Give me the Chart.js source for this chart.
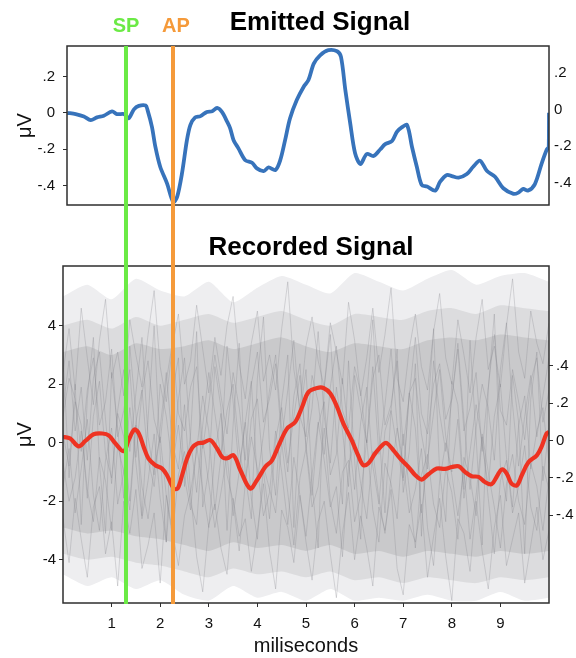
<!DOCTYPE html>
<html>
<head>
<meta charset="utf-8">
<script src="https://cdn.jsdelivr.net/npm/chart.js@4/dist/chart.umd.min.js"></script>
<style>
  html, body { margin: 0; padding: 0; background: #fff; }
  #wrap { position: relative; width: 576px; height: 658px; }
  #top { position: absolute; left: 0; top: 0; }
  #bot { position: absolute; left: 0; top: 230px; }
</style>
</head>
<body>
<div id="wrap">
  <canvas id="top" width="576" height="230"></canvas>
  <canvas id="bot" width="576" height="428"></canvas>
</div>
<script>
// ---------- DATA ----------
const xTickValues = [1, 2, 3, 4, 5, 6, 7, 8, 9];
const topLeftTicks = [-0.4, -0.2, 0, 0.2];
const topRightTicks = [-0.4, -0.2, 0, 0.2];
const botLeftTicks = [-4, -2, 0, 2, 4];
const botRightTicks = [-0.4, -0.2, 0, 0.2, 0.4];

const markerLabels = ['SP', 'AP'];
const markerTimes = [1.30, 2.27];

// Emitted signal (blue)
const blueX = [0.09,0.26,0.43,0.57,0.70,0.84,1.01,1.11,1.26,1.35,1.46,1.56,1.70,1.74,1.83,1.90,2.00,2.14,2.27,2.35,2.45,2.55,2.62,2.72,2.83,2.96,3.07,3.17,3.27,3.38,3.44,3.51,3.61,3.75,3.89,3.99,4.13,4.23,4.37,4.47,4.57,4.67,4.81,4.95,5.05,5.16,5.29,5.46,5.64,5.72,5.81,5.91,6.01,6.12,6.25,6.39,6.53,6.63,6.77,6.87,6.97,7.08,7.18,7.28,7.38,7.49,7.66,7.76,7.90,8.00,8.14,8.31,8.44,8.58,8.72,8.89,9.06,9.27,9.37,9.47,9.57,9.71,9.85,9.95,9.995,10.0];
const blueY = [0.00,-0.007,-0.02,-0.04,-0.025,-0.016,0.008,-0.007,-0.007,-0.03,0.019,0.038,0.04,0.015,-0.077,-0.186,-0.296,-0.387,-0.49,-0.46,-0.33,-0.15,-0.067,-0.025,-0.018,0.005,0.009,0.027,0.005,-0.05,-0.085,-0.15,-0.195,-0.26,-0.274,-0.305,-0.32,-0.30,-0.314,-0.26,-0.15,-0.031,0.07,0.142,0.18,0.27,0.316,0.344,0.338,0.307,0.124,-0.058,-0.222,-0.281,-0.226,-0.237,-0.2,-0.172,-0.155,-0.104,-0.08,-0.067,-0.186,-0.296,-0.396,-0.405,-0.427,-0.378,-0.341,-0.347,-0.356,-0.336,-0.296,-0.263,-0.318,-0.351,-0.414,-0.445,-0.438,-0.418,-0.427,-0.391,-0.277,-0.204,-0.186,0.0];

// Recorded average (red, right axis)
const redX = [0,0.03,0.15,0.32,0.46,0.63,0.81,0.94,1.08,1.25,1.35,1.47,1.56,1.66,1.76,1.90,2.04,2.14,2.28,2.36,2.45,2.55,2.66,2.76,2.89,3.03,3.17,3.28,3.38,3.51,3.65,3.85,3.99,4.16,4.30,4.44,4.61,4.78,4.92,5.05,5.23,5.36,5.50,5.64,5.77,5.94,6.08,6.18,6.29,6.42,6.59,6.66,6.80,6.94,7.11,7.25,7.38,7.52,7.69,7.86,8.00,8.14,8.27,8.41,8.55,8.68,8.82,8.93,9.03,9.13,9.23,9.34,9.44,9.58,9.75,9.85,9.95,10.0];
const redY = [0.015,0.019,0.011,-0.031,-0.002,0.034,0.038,0.028,-0.016,-0.057,0.002,0.059,0.038,-0.034,-0.097,-0.132,-0.15,-0.186,-0.257,-0.257,-0.186,-0.097,-0.038,-0.016,-0.011,0.002,-0.043,-0.09,-0.095,-0.079,-0.159,-0.257,-0.213,-0.142,-0.106,-0.025,0.064,0.1,0.18,0.26,0.282,0.282,0.252,0.18,0.091,0.002,-0.084,-0.132,-0.12,-0.07,-0.02,-0.013,-0.052,-0.097,-0.142,-0.186,-0.209,-0.181,-0.15,-0.152,-0.142,-0.138,-0.168,-0.191,-0.195,-0.222,-0.234,-0.191,-0.155,-0.177,-0.231,-0.24,-0.186,-0.115,-0.079,-0.031,0.038,0.046];

// Spread of the individual recordings (gray envelope), read at 0.5 ms steps
const bandTimes = [0,0.5,1,1.5,2,2.5,3,3.5,4,4.5,5,5.5,6,6.5,7,7.5,8,8.5,9,9.5,10];
const outerUpper = [5.0,5.4,4.9,5.6,5.2,5.0,5.5,4.8,5.3,5.7,5.4,5.1,5.8,5.5,5.2,5.6,5.9,5.4,5.7,5.8,5.5];
const outerLower = [-4.5,-4.9,-4.6,-5.0,-4.7,-5.2,-5.4,-4.9,-5.3,-5.1,-5.4,-5.0,-5.4,-5.3,-5.4,-5.2,-5.4,-5.4,-5.1,-5.4,-5.3];
const midUpper = [4.0,4.2,3.9,4.3,4.0,4.2,4.4,4.1,4.3,4.5,4.2,4.0,4.4,4.3,4.2,4.5,4.6,4.4,4.7,4.6,4.5];
const midLower = [-3.8,-4.0,-3.9,-4.1,-4.2,-4.4,-4.6,-4.3,-4.5,-4.4,-4.6,-4.4,-4.7,-4.6,-4.8,-4.6,-4.7,-4.8,-4.6,-4.7,-4.6];
const innerUpper = [3.1,3.3,3.0,3.4,3.2,3.3,3.5,3.2,3.4,3.6,3.3,3.1,3.4,3.3,3.2,3.5,3.6,3.5,3.7,3.6,3.5];
const innerLower = [-2.9,-3.1,-3.0,-3.2,-3.3,-3.5,-3.7,-3.4,-3.6,-3.5,-3.7,-3.5,-3.8,-3.7,-3.9,-3.7,-3.8,-3.9,-3.7,-3.8,-3.7];

// A few individual recordings (gray traces), evenly sampled over 0-10 ms
const trace1 = [1.2,2.8,0.4,1.9,-0.6,2.2,3.1,0.8,-1.4,1.1,2.5,-0.3,1.7,3.6,0.2,-1.1,2.0,0.9,-0.8,1.5,2.9,0.1,-1.7,0.6,2.4,1.0,-0.5,3.3,1.4,-0.9,0.7,2.1,-1.3,0.3,1.8,3.0,0.5,-1.0,1.6,2.7,-0.2,1.2,3.8,0.9,-0.7,1.9,0.4,-1.5,2.3,1.1,0.0,2.6,-0.4,1.3,3.2,0.6,-1.2,1.7,2.2,0.3,-0.9,2.8,1.0,-0.3,1.5,3.4,0.8,-1.6,0.5,2.0,1.2,-0.6,2.5,4.1,1.3,-0.8,0.9,2.3,0.2,1.6,2.9];
const trace2 = [-1.5,-0.2,-2.4,-0.9,0.8,-1.8,-3.0,-0.6,0.5,-2.1,-1.0,1.2,-0.7,-2.6,-1.3,0.3,-1.9,-3.4,-0.8,0.6,-1.2,-2.3,-0.1,-1.6,-2.9,-0.4,1.0,-1.1,-2.0,-3.7,-1.4,0.2,-0.9,-2.5,-1.7,0.4,-1.0,-2.8,-0.5,-1.8,-3.2,-1.1,0.7,-0.6,-2.2,-1.5,-3.9,-0.8,0.1,-1.4,-2.6,-0.3,-1.9,-3.1,-1.2,0.5,-0.7,-2.4,-1.6,-0.2,-2.9,-4.2,-1.3,0.0,-1.1,-2.5,-0.9,-3.3,-1.8,0.3,-1.0,-2.2,-3.6,-1.4,-0.4,-2.0,-2.8,-0.7,-1.5,-3.0,-1.2];
const trace3 = [0.3,-0.8,1.4,0.6,-1.9,0.9,2.1,-0.4,-1.2,1.0,0.2,-2.0,0.7,1.8,-0.6,-1.5,0.5,2.4,0.0,-0.9,1.3,-1.7,-0.3,1.6,0.4,-2.3,-0.5,1.1,2.0,-0.2,-1.4,0.8,1.5,-1.0,-2.6,0.1,1.2,-0.7,0.9,2.3,-0.1,-1.8,0.6,1.4,-1.1,-0.4,2.2,0.3,-1.6,0.7,1.9,-0.8,-2.1,0.4,1.1,-0.2,-1.3,1.7,0.5,-2.4,-0.6,1.0,2.5,0.2,-1.0,0.8,-1.9,-0.3,1.3,0.0,-1.5,0.9,2.0,-0.5,-2.2,0.6,1.6,-0.9,0.4,1.2,-0.7];
const trace4 = [2.4,3.9,1.8,4.6,2.9,1.3,3.5,4.9,2.2,3.1,1.6,4.2,3.0,1.9,3.7,5.2,2.6,1.4,3.3,4.4,2.0,2.8,4.7,3.2,1.7,3.6,2.3,4.0,5.0,2.7,1.5,3.4,4.5,2.1,3.0,1.8,3.9,5.5,2.5,1.2,3.3,4.3,2.8,1.9,4.1,3.1,2.0,4.8,3.5,1.6,2.9,4.6,2.4,3.7,5.3,2.2,1.4,3.2,4.4,2.6,1.8,3.8,5.1,2.9,2.0,4.2,3.0,1.7,3.6,4.9,2.5,3.3,1.9,4.0,5.6,3.1,2.2,4.5,3.4,2.7,4.1];
const trace5 = [-2.6,-4.1,-1.9,-3.3,-4.6,-2.2,-1.5,-3.8,-2.7,-4.9,-2.0,-3.1,-1.6,-4.3,-3.5,-2.4,-4.8,-1.8,-3.0,-4.2,-2.5,-1.7,-3.9,-5.1,-2.8,-2.1,-3.6,-4.5,-1.9,-3.2,-2.6,-4.4,-3.0,-1.4,-3.7,-5.0,-2.3,-2.9,-4.1,-1.8,-3.4,-4.7,-2.7,-2.0,-3.8,-5.3,-3.1,-1.7,-4.0,-2.5,-3.6,-4.9,-2.2,-3.0,-1.6,-4.3,-5.2,-2.8,-3.4,-2.1,-4.6,-3.2,-1.9,-3.9,-5.4,-2.6,-3.1,-4.4,-2.0,-3.7,-5.0,-2.9,-1.8,-4.2,-3.3,-2.4,-4.8,-3.5,-2.2,-4.0,-3.0];
const trace6 = [0.9,2.2,1.5,-0.3,1.8,2.9,0.6,1.4,3.2,0.2,1.1,2.5,-0.5,1.7,2.8,0.8,0.0,2.1,3.4,1.0,0.4,1.9,2.6,-0.2,1.3,3.0,1.6,0.3,2.4,1.2,-0.6,2.0,3.1,0.7,1.5,2.7,0.1,1.8,3.5,0.9,0.2,2.3,1.4,-0.4,1.9,3.3,1.1,0.5,2.6,1.7,0.0,2.2,3.0,0.6,1.3,2.8,-0.1,1.6,3.6,1.0,0.3,2.0,2.7,0.8,1.5,3.2,0.4,1.2,2.4,-0.3,1.9,3.7,1.1,0.6,2.5,1.4,0.1,2.1,2.9,0.7,1.8];
const trace7 = [-0.7,-2.0,-1.2,0.4,-1.6,-2.7,-0.5,-1.3,-3.0,-0.1,-1.0,-2.3,0.6,-1.5,-2.6,-0.9,0.2,-1.8,-3.2,-1.1,-0.3,-2.1,-2.8,0.1,-1.4,-2.9,-1.7,-0.4,-2.5,-1.0,0.7,-1.9,-3.3,-0.8,-1.6,-2.4,0.0,-1.7,-3.5,-1.2,-0.2,-2.2,-1.5,0.5,-2.0,-3.1,-1.0,-0.6,-2.7,-1.8,0.1,-2.3,-3.4,-0.7,-1.4,-2.6,0.3,-1.6,-3.6,-1.1,-0.4,-2.1,-2.9,-0.9,-1.7,-3.3,-0.5,-1.2,-2.5,0.2,-1.9,-3.8,-1.3,-0.6,-2.4,-1.5,-0.1,-2.2,-3.0,-0.8,-1.6];
const trace8 = [3.1,-1.2,2.0,-2.8,1.5,3.6,-0.7,-3.1,2.4,0.5,-1.9,3.3,1.0,-2.5,0.8,4.0,-0.4,-3.4,1.7,2.9,-1.5,0.3,3.8,-2.2,-0.9,2.6,1.2,-3.0,0.6,3.4,-1.1,-2.6,2.2,4.3,-0.2,-1.8,1.4,3.0,-2.9,0.9,2.5,-1.4,-3.6,1.9,3.7,0.1,-2.1,2.8,-0.6,-3.3,1.6,4.2,0.4,-2.4,1.1,3.2,-1.7,-0.3,2.7,-3.2,0.8,3.9,-1.0,-2.7,2.1,1.3,-1.6,3.5,0.2,-3.5,1.8,4.4,-0.8,-2.0,2.3,0.7,-3.8,1.5,3.1,-1.3,0.5];
const grayTraces = [trace1, trace2, trace3, trace4, trace5, trace6, trace7, trace8];

// ---------- STYLES ----------
const FONT = '"Liberation Sans", Arial, Helvetica, sans-serif';
const markerColors = ['#6bea45', '#f59a3a'];
const markerLabelDx = [0, 3];
const INK = '#111';
const FRAME = '#2e2e2e';

const pair = (xs, ys) => xs.map((x, i) => ({ x: x, y: ys[i] }));
const evenly = (ys) => ys.map((y, i) => ({ x: i * 10 / (ys.length - 1), y: y }));
const fmtFrac = (v) => {
  if (Math.abs(v) < 1e-9) return '0';
  return (v < 0 ? '-' : '') + Math.abs(v).toFixed(1).replace(/^0/, '');
};
const fixTicks = (vals) => (scale) => { scale.ticks = vals.map(v => ({ value: v })); };

function overlayPlugin(id) {
  return {
    id: id,
    afterDatasetsDraw(chart, args, opts) {
      const { ctx, chartArea: a } = chart;
      const xs = chart.scales.x;
      ctx.save();
      ctx.strokeStyle = FRAME;
      ctx.lineWidth = 1.5;
      ctx.strokeRect(a.left, a.top, a.right - a.left, a.bottom - a.top);
      markerTimes.forEach((t, i) => {
        const px = Math.round(xs.getPixelForValue(t));
        ctx.strokeStyle = markerColors[i];
        ctx.lineWidth = 4;
        ctx.lineCap = 'butt';
        ctx.beginPath();
        ctx.moveTo(px, opts.fromArea ? a.top : -4);
        ctx.lineTo(px, opts.toArea ? a.bottom + 1 : chart.height + 4);
        ctx.stroke();
        if (opts.labels) {
          ctx.fillStyle = markerColors[i];
          ctx.font = 'bold 20px ' + FONT;
          ctx.textAlign = 'center';
          ctx.textBaseline = 'alphabetic';
          ctx.fillText(markerLabels[i], px + markerLabelDx[i], a.top - 14);
        }
      });
      ctx.fillStyle = '#000';
      ctx.font = 'bold 26px ' + FONT;
      ctx.textAlign = 'center';
      ctx.textBaseline = 'alphabetic';
      ctx.fillText(opts.title, (a.left + a.right) / 2 + opts.titleDx, a.top - opts.titleDy);
      ctx.restore();
    }
  };
}

const tickFont = { family: FONT, size: 15 };
const axisTitleFont = { family: FONT, size: 20 };

// ---------- TOP CHART ----------
new Chart(document.getElementById('top'), {
  type: 'line',
  data: {
    datasets: [{
      data: pair(blueX, blueY),
      borderColor: '#3773bb',
      borderWidth: 3.8,
      pointRadius: 0,
      tension: 0.3,
      yAxisID: 'yL'
    }]
  },
  options: {
    responsive: false,
    devicePixelRatio: 1,
    animation: false,
    layout: { padding: { top: 46, bottom: 25, left: 0, right: 0 } },
    plugins: {
      legend: { display: false },
      tooltip: { enabled: false },
      topOverlay: { fromArea: true, toArea: false, labels: true, title: 'Emitted Signal', titleDx: 12, titleDy: 16 }
    },
    scales: {
      x: { type: 'linear', min: 0.0823, max: 10, display: false },
      yL: {
        type: 'linear', position: 'left', min: -0.506, max: 0.367,
        afterBuildTicks: fixTicks(topLeftTicks),
        afterFit: (s) => { s.width = 67; },
        border: { display: false },
        grid: { drawOnChartArea: false, drawTicks: true, tickLength: 4, color: FRAME },
        ticks: { callback: fmtFrac, font: tickFont, color: INK, padding: 8 },
        title: { display: true, text: 'μV', font: axisTitleFont, color: INK, padding: { top: 13, bottom: 0 } }
      },
      yR: {
        type: 'linear', position: 'right', min: -0.522, max: 0.347,
        afterBuildTicks: fixTicks(topRightTicks),
        afterFit: (s) => { s.width = 27; },
        border: { display: false },
        grid: { display: false, drawOnChartArea: false, drawTicks: false },
        ticks: { callback: fmtFrac, font: tickFont, color: INK, padding: 5 }
      }
    }
  },
  plugins: [overlayPlugin('topOverlay')]
});

// ---------- BOTTOM CHART ----------
const bandSet = (vals, color, fill, order) => ({
  data: pair(bandTimes, vals),
  borderWidth: 0,
  borderColor: 'rgba(0,0,0,0)',
  backgroundColor: color,
  pointRadius: 0,
  tension: 0.2,
  fill: fill,
  order: order,
  yAxisID: 'yL'
});

const bottomDatasets = [
  {
    data: pair(redX, redY),
    borderColor: '#ee3322',
    borderWidth: 4.2,
    pointRadius: 0,
    tension: 0.35,
    order: 0,
    yAxisID: 'yR'
  }
];
grayTraces.forEach((tr) => {
  bottomDatasets.push({
    data: evenly(tr),
    borderColor: 'rgba(130,130,135,0.4)',
    borderWidth: 0.7,
    pointRadius: 0,
    tension: 0,
    fill: false,
    order: 1,
    yAxisID: 'yL'
  });
});
bottomDatasets.push(bandSet(innerUpper, '#c9c9cb', '+1', 2));
bottomDatasets.push(bandSet(innerLower, 'rgba(0,0,0,0)', false, 2));
bottomDatasets.push(bandSet(midUpper, '#dcdcde', '+1', 3));
bottomDatasets.push(bandSet(midLower, 'rgba(0,0,0,0)', false, 3));
bottomDatasets.push(bandSet(outerUpper, '#eeeef0', '+1', 4));
bottomDatasets.push(bandSet(outerLower, 'rgba(0,0,0,0)', false, 4));

new Chart(document.getElementById('bot'), {
  type: 'line',
  data: { datasets: bottomDatasets },
  options: {
    responsive: false,
    devicePixelRatio: 1,
    animation: false,
    layout: { padding: { top: 36, bottom: 0, left: 0, right: 0 } },
    plugins: {
      legend: { display: false },
      tooltip: { enabled: false },
      botOverlay: { fromArea: false, toArea: true, labels: false, title: 'Recorded Signal', titleDx: 5, titleDy: 11 }
    },
    scales: {
      x: {
        type: 'linear', position: 'bottom', min: 0, max: 10,
        afterBuildTicks: fixTicks(xTickValues),
        afterFit: (s) => { s.height = 55; },
        border: { display: false },
        grid: { drawOnChartArea: false, drawTicks: true, tickLength: 4, color: FRAME },
        ticks: { font: tickFont, color: INK, padding: 8, maxRotation: 0, callback: (v) => String(v) },
        title: { display: true, text: 'miliseconds', font: axisTitleFont, color: INK, padding: { top: 0, bottom: 0 } }
      },
      yL: {
        type: 'linear', position: 'left', min: -5.48, max: 6.04,
        afterBuildTicks: fixTicks(botLeftTicks),
        afterFit: (s) => { s.width = 63; },
        border: { display: false },
        grid: { drawOnChartArea: false, drawTicks: true, tickLength: 4, color: FRAME },
        ticks: { font: tickFont, color: INK, padding: 3, callback: (v) => String(v) },
        title: { display: true, text: 'μV', font: axisTitleFont, color: INK, padding: { top: 13, bottom: 0 } }
      },
      yR: {
        type: 'linear', position: 'right', min: -0.871, max: 0.936,
        afterBuildTicks: fixTicks(botRightTicks),
        afterFit: (s) => { s.width = 27; },
        border: { display: false },
        grid: { drawOnChartArea: false, drawTicks: true, tickLength: 4, color: FRAME },
        ticks: { callback: fmtFrac, font: tickFont, color: INK, padding: 3 }
      }
    }
  },
  plugins: [overlayPlugin('botOverlay')]
});
</script>
</body>
</html>
